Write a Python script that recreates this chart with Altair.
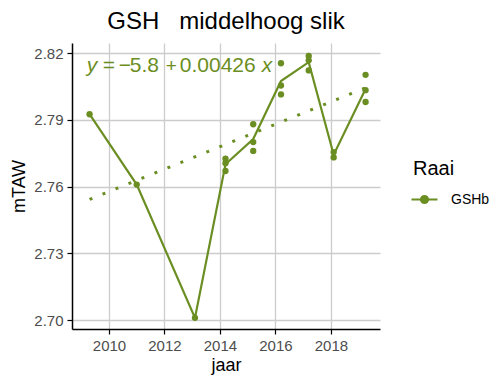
import altair as alt
import pandas as pd

# --- data ---
years = [2009.3, 2011.0, 2013.1,
         2014.2, 2014.2, 2014.2,
         2015.2, 2015.2, 2015.2,
         2016.2, 2016.2, 2016.2,
         2017.2, 2017.2, 2017.2,
         2018.1, 2018.1,
         2019.25, 2019.25, 2019.25]
mtaw = [2.7925, 2.7609, 2.7010,
        2.7725, 2.7705, 2.7670,
        2.7880, 2.7800, 2.7760,
        2.8154, 2.8054, 2.8014,
        2.8187, 2.8167, 2.8122,
        2.7755, 2.7731,
        2.8102, 2.8033, 2.7980]
raai = ["GSHb"] * len(years)

x_ticks = [2010, 2012, 2014, 2016, 2018]
y_ticks = [2.70, 2.73, 2.76, 2.79, 2.82]
# equation pieces: (text, italic, offset in px from the start, font size)
eq_pieces = [("y", True, 0, 21), ("=", False, 16, 21), ("\u2212", False, 32, 21),
             ("5.8", False, 43, 21), ("+", False, 79, 19), ("0.00426", False, 93, 21),
             ("x", True, 175, 21)]

GREEN = "#6b8e23"
FONT = "Liberation Sans"

df = pd.DataFrame({"jaar": years, "mTAW": mtaw, "Raai": raai})

xs = alt.Scale(domain=[2008.667, 2019.77], nice=False, zero=False)
ys = alt.Scale(domain=[2.696, 2.8245], nice=False, zero=False)

X = alt.X("jaar:Q", scale=xs, title="jaar",
          axis=alt.Axis(values=x_ticks, format="d"))
Y = alt.Y("mTAW:Q", scale=ys, title="mTAW",
          axis=alt.Axis(values=y_ticks, format=".2f"))

color = alt.Color("Raai:N", scale=alt.Scale(range=[GREEN]),
                  legend=alt.Legend(
                      title="Raai", orient="none", legendX=341, legendY=116,
                      padding=0,
                      symbolType="M -1.3 0 L 1.3 0 M 0.35 0 A 0.35 0.35 0 1 1 -0.35 0 A 0.35 0.35 0 1 1 0.35 0",
                      symbolSize=400, symbolStrokeWidth=2.2,
                      symbolFillColor=GREEN, symbolStrokeColor=GREEN,
                      titleFontSize=20, titleFont=FONT, titleFontWeight="normal",
                      titleColor="black", titlePadding=9,
                      labelFontSize=14, labelFont=FONT, labelColor="black",
                      labelOffset=15))

base = alt.Chart(df)

trend = base.transform_regression("jaar", "mTAW").mark_line(
    color=GREEN, strokeWidth=3, strokeDash=[3, 11], strokeCap="butt"
).encode(x="jaar:Q", y="mTAW:Q")

line = base.mark_line(strokeWidth=2.2).encode(
    x=X, y=alt.Y("mean(mTAW):Q", scale=ys), color=color)

pts = base.mark_circle(size=40, opacity=1).encode(x=X, y=Y, color=color)

eq_df = pd.DataFrame({"jaar": [2009.2], "mTAW": [2.8141]})
eq_base = alt.Chart(eq_df)
eq_layers = []
for txt, ital, off, fs in eq_pieces:
    kw = dict(text=txt, fontSize=fs, font=FONT, dx=off, color=GREEN,
              align="left", baseline="middle")
    if ital:
        kw["fontStyle"] = "italic"
    eq_layers.append(eq_base.mark_text(**kw).encode(x="jaar:Q", y="mTAW:Q"))

chart = alt.layer(trend, line, pts, *eq_layers).properties(
    width=308, height=286,
    title=alt.TitleParams("GSH\u00a0\u00a0\u00a0middelhoog slik", fontSize=24, font=FONT,
                          fontWeight="normal", color="black", anchor="middle", offset=9),
    autosize=alt.AutoSizeParams(type="none"),
    padding={"left": 64, "top": 35, "right": 110, "bottom": 51},
).configure_view(stroke=None).configure_axis(
    labelFont=FONT, labelFontSize=15, labelColor="#4d4d4d",
    titleFont=FONT, titleFontSize=18, titleFontWeight="normal", titleColor="black",
    gridColor="#cccccc", gridWidth=1.3,
    domainColor="black", domainWidth=1.5,
    tickColor="black", tickSize=5, tickWidth=1.2,
    labelPadding=4,
).configure_axisX(titlePadding=3).configure_axisY(titlePadding=5)

chart.save("out.html", embed_options={"renderer": "svg", "actions": False})
